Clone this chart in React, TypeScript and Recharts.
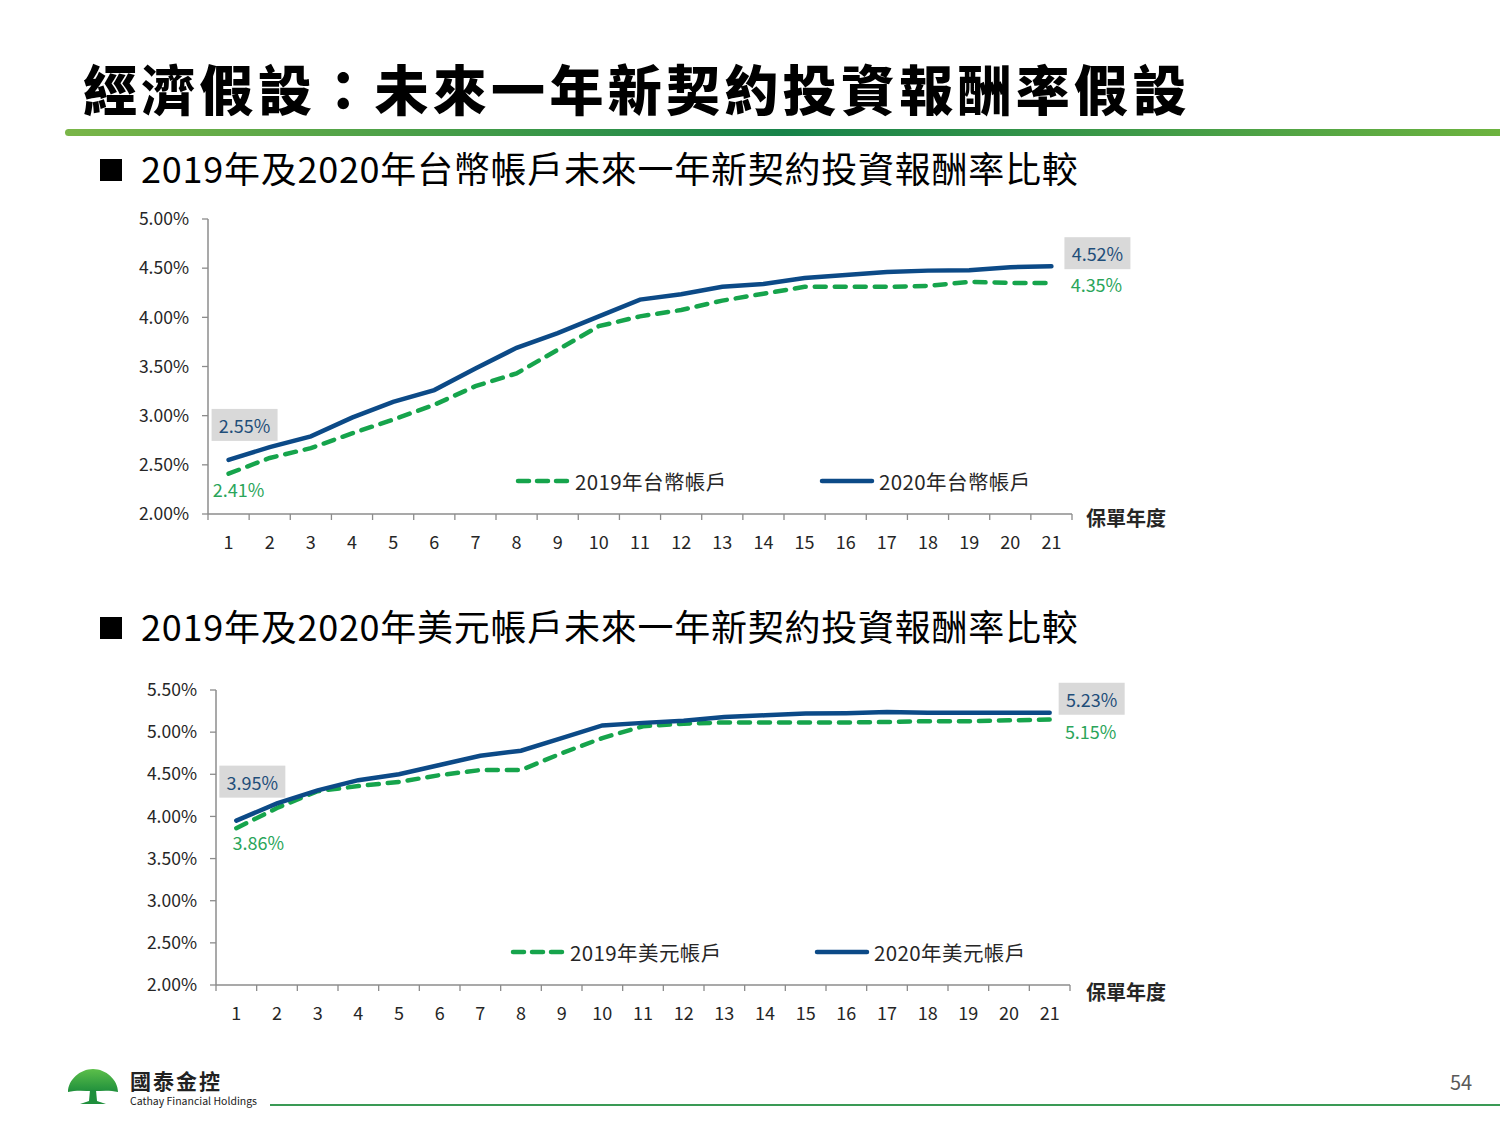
import { LineChart, Line, XAxis, YAxis, Legend, LabelList } from 'recharts';

// 保單年度
const years = ['1', '2', '3', '4', '5', '6', '7', '8', '9', '10', '11', '12', '13', '14', '15', '16', '17', '18', '19', '20', '21'];

// 台幣帳戶 (%)
const twd2019 = [2.41, 2.57, 2.67, 2.82, 2.96, 3.11, 3.3, 3.43, 3.67, 3.91, 4.01, 4.075, 4.17, 4.24, 4.31, 4.31, 4.31, 4.32, 4.36, 4.35, 4.35];
const twd2020 = [2.55, 2.68, 2.79, 2.98, 3.14, 3.26, 3.48, 3.69, 3.84, 4.01, 4.18, 4.235, 4.31, 4.34, 4.4, 4.43, 4.46, 4.475, 4.48, 4.51, 4.52];
const twdTicks = [2, 2.5, 3, 3.5, 4, 4.5, 5];

// 美元帳戶 (%)
const usd2019 = [3.86, 4.1, 4.3, 4.36, 4.41, 4.49, 4.55, 4.55, 4.75, 4.93, 5.07, 5.1, 5.115, 5.115, 5.115, 5.115, 5.12, 5.13, 5.13, 5.14, 5.15];
const usd2020 = [3.95, 4.155, 4.31, 4.43, 4.5, 4.61, 4.72, 4.78, 4.93, 5.08, 5.11, 5.135, 5.18, 5.2, 5.22, 5.225, 5.24, 5.23, 5.23, 5.23, 5.23];
const usdTicks = [2, 2.5, 3, 3.5, 4, 4.5, 5, 5.5];

const BLUE = '#0c4a87';
const GREEN = '#16a44c';
const LABEL_BLUE = '#1f4e79';
const LABEL_GREEN = '#2aa55a';
const AXIS = '#8c8c8c';
const TEXT = '#262626';
const FONT = '"Noto Sans CJK TC", "Noto Sans", sans-serif';
const DASH = '11 9';

const CW = 1200;
const CH = 370;

type Row = { year: string; a: number; b: number };
type Off = [number, number];

function yearTick(half: number, count: number) {
  return (p: any) => {
    const { x, y, payload } = p;
    const i = p.index ?? payload.index;
    return (
      <g>
        <line x1={x - half} x2={x - half} y1={y} y2={y + 6} stroke={AXIS} strokeWidth={1.3} />
        {i === count - 1 && <line x1={x + half} x2={x + half} y1={y} y2={y + 6} stroke={AXIS} strokeWidth={1.3} />}
        <text x={x} y={y + 27} textAnchor="middle" dominantBaseline="central" fontSize={18} fill={TEXT} fontFamily={FONT}>
          {payload.value}
        </text>
      </g>
    );
  };
}

function endLabel(boxed: boolean, color: string, first: Off, last: Off, count: number) {
  return (p: any) => {
    const { x, y, value, index } = p;
    if (index !== 0 && index !== count - 1) return null;
    const [dx, dy] = index === 0 ? first : last;
    const cx = x + dx;
    const cy = y + dy;
    return (
      <g>
        {boxed && <rect x={cx - 33} y={cy - 16} width={66} height={32} fill="#d9d9d9" />}
        <text x={cx} y={cy} textAnchor="middle" dominantBaseline="central" fontSize={18} fill={color} fontFamily={FONT}>
          {`${Number(value).toFixed(2)}%`}
        </text>
      </g>
    );
  };
}

function LegendRow({ names }: { names: [string, string] }) {
  const items = [
    { name: names[0], color: GREEN, dash: '11 8' },
    { name: names[1], color: BLUE, dash: undefined },
  ];
  return (
    <div style={{ display: 'flex', alignItems: 'center', fontFamily: FONT }}>
      {items.map((it, i) => (
        <div key={it.name} style={{ display: 'flex', alignItems: 'center', width: i === 0 ? 304 : 'auto' }}>
          <svg width={56} height={10}>
            <line x1={3} x2={53} y1={5} y2={5} stroke={it.color} strokeWidth={4.5} strokeDasharray={it.dash} strokeLinecap="round" />
          </svg>
          <span style={{ marginLeft: 4, fontSize: 20.5, color: TEXT, lineHeight: '24px', letterSpacing: 0.4 }}>{it.name}</span>
        </div>
      ))}
    </div>
  );
}

type ChartProps = {
  top: number;
  plotLeft: number;
  plotRight: number;
  plotTop: number;
  plotBottom: number;
  rows: Row[];
  domain: [number, number];
  ticks: number[];
  names: [string, string];
  legendLeft: number;
  legendY: number;
  blueFirst: Off;
  blueLast: Off;
  greenFirst: Off;
  greenLast: Off;
};

function RateChart(props: ChartProps) {
  const { top, plotLeft, plotRight, plotTop, plotBottom, rows, domain, ticks, names } = props;
  const n = rows.length;
  const half = (plotRight - plotLeft) / n / 2;
  return (
    <div style={{ position: 'absolute', left: 0, top, width: CW, height: CH }}>
      <LineChart
        width={CW}
        height={CH}
        data={rows}
        margin={{ top: plotTop - top, right: CW - plotRight, bottom: 0, left: 0 }}
      >
        <XAxis
          dataKey="year"
          interval={0}
          padding={{ left: half, right: half }}
          height={CH - (plotBottom - top)}
          axisLine={{ stroke: AXIS, strokeWidth: 1.5 }}
          tickLine={false}
          tickSize={0}
          tickMargin={0}
          tick={yearTick(half, n)}
        />
        <YAxis
          width={plotLeft}
          domain={domain}
          ticks={ticks}
          interval={0}
          allowDataOverflow
          axisLine={{ stroke: AXIS, strokeWidth: 1.5 }}
          tickLine={{ stroke: AXIS, strokeWidth: 1.3 }}
          tickSize={6}
          tickMargin={13}
          tick={{ fontSize: 17.5, fill: TEXT, fontFamily: FONT }}
          tickFormatter={(v: number) => `${v.toFixed(2)}%`}
        />
        <Legend
          layout="horizontal"
          verticalAlign="middle"
          align="center"
          content={() => <LegendRow names={names} />}
          wrapperStyle={{ position: 'absolute', left: props.legendLeft, top: props.legendY - top - 12, width: 640, height: 24 }}
        />
        <Line
          dataKey="a"
          name={names[0]}
          stroke={GREEN}
          strokeWidth={4.5}
          strokeDasharray={DASH}
          strokeLinecap="round"
          dot={false}
          isAnimationActive={false}
        >
          <LabelList dataKey="a" content={endLabel(false, LABEL_GREEN, props.greenFirst, props.greenLast, n)} />
        </Line>
        <Line
          dataKey="b"
          name={names[1]}
          stroke={BLUE}
          strokeWidth={4.5}
          strokeLinecap="round"
          dot={false}
          isAnimationActive={false}
        >
          <LabelList dataKey="b" content={endLabel(true, LABEL_BLUE, props.blueFirst, props.blueLast, n)} />
        </Line>
      </LineChart>
    </div>
  );
}

function Subtitle({ top, text }: { top: number; text: string }) {
  return (
    <>
      <div style={{ position: 'absolute', left: 100, top: top + 7, width: 22, height: 22, background: '#000' }} />
      <div style={{ position: 'absolute', left: 141, top: top - 3, fontSize: 36, lineHeight: '36px', color: '#000', letterSpacing: 0.75, whiteSpace: 'nowrap' }}>
        {text}
      </div>
    </>
  );
}

function AxisName({ top }: { top: number }) {
  return (
    <div style={{ position: 'absolute', left: 1086, top, fontSize: 20, lineHeight: '24px', fontWeight: 700, color: TEXT }}>
      保單年度
    </div>
  );
}

function Logo() {
  return (
    <svg width={60} height={45} style={{ position: 'absolute', left: 64, top: 1064 }}>
      <defs>
        <linearGradient id="crown" x1="0" y1="0" x2="0" y2="1">
          <stop offset="0" stopColor="#5cbf4a" />
          <stop offset="1" stopColor="#1f8f3c" />
        </linearGradient>
      </defs>
      <path d="M4 28 C4 16 16 5 29 5 C42 5 54 16 54 28 C46 26 38 27 29 27 C20 27 12 26 4 28 Z" fill="url(#crown)" />
      <path d="M26 26 L32 26 L33 37 L42 40 L16 40 L25 37 Z" fill="#1f8f3c" />
    </svg>
  );
}

export default function App() {
  const twdRows: Row[] = years.map((y, i) => ({ year: y, a: twd2019[i], b: twd2020[i] }));
  const usdRows: Row[] = years.map((y, i) => ({ year: y, a: usd2019[i], b: usd2020[i] }));
  return (
    <div
      style={{
        position: 'absolute',
        left: 0,
        top: 0,
        width: 1500,
        height: 1125,
        background: '#fff',
        overflow: 'hidden',
        fontFamily: FONT,
      }}
    >
      <div
        style={{
          position: 'absolute',
          left: 83,
          top: 61,
          fontSize: 54,
          lineHeight: '54px',
          fontWeight: 900,
          letterSpacing: 4.3,
          color: '#000',
          whiteSpace: 'nowrap',
        }}
      >
        經濟假設：未來一年新契約投資報酬率假設
      </div>
      <div
        style={{
          position: 'absolute',
          left: 65,
          top: 129,
          width: 1435,
          height: 7,
          borderRadius: '4px 0 0 4px',
          background: 'linear-gradient(90deg, #7ab648 0%, #3f9a48 30%, #17834a 50%, #3f9a48 75%, #6db33f 100%)',
        }}
      />

      <Subtitle top={152} text="2019年及2020年台幣帳戶未來一年新契約投資報酬率比較" />
      <RateChart
        top={200}
        plotLeft={208}
        plotRight={1072}
        plotTop={219}
        plotBottom={514}
        rows={twdRows}
        domain={[2, 5]}
        ticks={twdTicks}
        names={['2019年台幣帳戶', '2020年台幣帳戶']}
        legendLeft={515}
        legendY={481}
        blueFirst={[16, -35]}
        blueLast={[46, -13]}
        greenFirst={[10, 15]}
        greenLast={[45, 1]}
      />
      <AxisName top={506} />

      <Subtitle top={610} text="2019年及2020年美元帳戶未來一年新契約投資報酬率比較" />
      <RateChart
        top={670}
        plotLeft={216}
        plotRight={1070}
        plotTop={690}
        plotBottom={985}
        rows={usdRows}
        domain={[2, 5.5]}
        ticks={usdTicks}
        names={['2019年美元帳戶', '2020年美元帳戶']}
        legendLeft={510}
        legendY={952}
        blueFirst={[16, -39]}
        blueLast={[42, -14]}
        greenFirst={[22, 14]}
        greenLast={[41, 11]}
      />
      <AxisName top={980} />

      <Logo />
      <div style={{ position: 'absolute', left: 130, top: 1068, fontSize: 21, lineHeight: '24px', fontWeight: 700, color: '#222', letterSpacing: 2 }}>
        國泰金控
      </div>
      <div style={{ position: 'absolute', left: 130, top: 1094, fontSize: 10.5, lineHeight: '14px', color: '#222', whiteSpace: 'nowrap' }}>
        Cathay Financial Holdings
      </div>
      <div style={{ position: 'absolute', left: 270, top: 1104, width: 1230, height: 2, background: '#3a9a55' }} />
      <div style={{ position: 'absolute', left: 1450, top: 1070, fontSize: 20, lineHeight: '24px', color: '#595959' }}>54</div>
    </div>
  );
}
